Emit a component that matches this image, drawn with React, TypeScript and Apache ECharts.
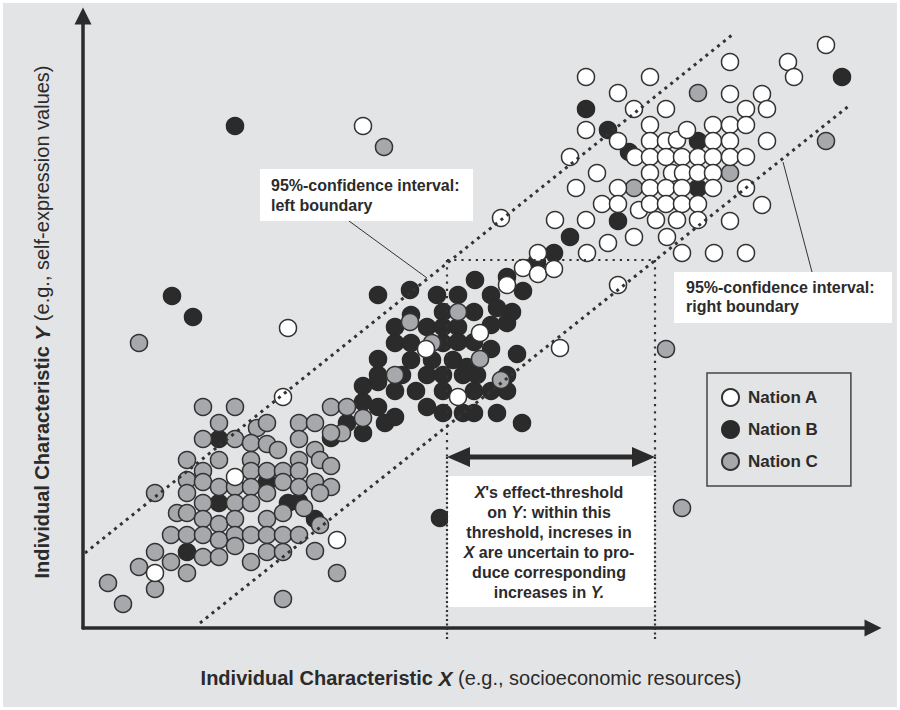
import React, { useEffect, useRef } from 'react';
import * as echarts from 'echarts';

// Data units: X = socioeconomic resources, Y = self-expression values (arbitrary scale)
const nationA: [number, number][] = [
  [397, 295], [343, 279], [375, 231], [424, 343], [440, 360], [455, 354], [455, 375], [471, 359],
  [504, 375], [525, 385], [551, 391], [535, 343], [477, 280], [418, 410], [200, 231], [152, 151],
  [72, 55], [254, 88], [205, 300], [280, 502], [503, 551], [567, 551], [535, 535], [551, 519],
  [583, 519], [567, 503], [503, 498], [535, 487], [552, 471], [567, 487], [583, 487], [594, 488],
  [604, 498], [630, 503], [630, 487], [487, 471], [567, 471], [583, 471], [599, 471], [615, 471],
  [630, 471], [514, 455], [567, 455], [589, 455], [600, 455], [615, 455], [630, 455], [493, 440],
  [535, 440], [567, 440], [583, 440], [599, 440], [630, 440], [519, 424], [535, 424], [556, 418],
  [567, 424], [583, 424], [599, 424], [615, 424], [472, 408], [503, 408], [573, 408], [594, 408],
  [615, 408], [584, 391], [599, 375], [631, 375], [663, 375], [647, 534], [679, 534], [663, 519],
  [684, 519], [647, 503], [663, 503], [647, 487], [684, 487], [647, 471], [663, 471], [663, 440],
  [679, 423], [647, 407], [743, 583], [647, 566], [705, 566], [711, 551],
];

const nationB: [number, number][] = [
  [136, 189], [184, 146], [136, 125], [104, 76], [205, 125], [216, 126], [232, 109], [248, 190],
  [264, 205], [280, 195], [280, 226], [295, 221], [302, 205], [280, 242], [295, 246], [312, 211],
  [152, 502], [89, 332], [110, 311], [357, 110], [295, 333], [327, 338], [354, 333], [375, 333],
  [392, 348], [408, 333], [440, 337], [429, 316], [414, 320], [360, 316], [391, 316], [328, 313],
  [312, 301], [344, 301], [360, 301], [375, 301], [408, 303], [424, 305], [312, 285], [328, 285],
  [360, 285], [375, 286], [391, 286], [408, 279], [295, 269], [328, 268], [349, 268], [370, 268],
  [384, 261], [434, 274], [295, 253], [319, 253], [344, 253], [360, 253], [380, 253], [394, 253],
  [424, 253], [312, 237], [333, 237], [360, 237], [391, 237], [408, 237], [424, 237], [344, 221],
  [360, 215], [380, 215], [391, 215], [414, 215], [439, 205], [424, 351], [454, 366], [471, 375],
  [487, 391], [503, 519], [525, 498], [546, 476], [615, 487], [615, 440], [535, 407], [759, 551],
];

const nationC: [number, number][] = [
  [120, 221], [152, 221], [136, 205], [120, 189], [152, 189], [174, 200], [168, 185], [104, 168],
  [136, 168], [168, 168], [120, 157], [168, 157], [104, 148], [120, 146], [72, 135], [104, 135],
  [136, 141], [152, 141], [168, 141], [120, 125], [152, 125], [168, 125], [94, 115], [104, 115],
  [120, 109], [136, 104], [152, 109], [184, 109], [88, 93], [104, 93], [120, 93], [136, 88],
  [152, 93], [168, 93], [72, 76], [120, 71], [136, 71], [152, 82], [88, 66], [56, 61],
  [104, 55], [168, 66], [72, 39], [25, 45], [40, 24], [248, 221], [264, 221], [280, 210],
  [259, 195], [248, 195], [184, 205], [216, 205], [232, 205], [216, 189], [184, 184], [195, 178],
  [232, 178], [216, 168], [237, 168], [248, 162], [184, 157], [200, 157], [216, 157], [200, 146],
  [184, 135], [216, 141], [232, 146], [248, 141], [237, 135], [221, 120], [200, 115], [237, 103],
  [184, 93], [200, 93], [216, 93], [184, 76], [200, 76], [232, 77], [254, 55], [200, 29],
  [375, 316], [327, 306], [349, 285], [397, 269], [312, 253], [418, 248], [301, 481], [56, 285],
  [583, 279], [599, 120], [615, 535], [551, 440], [647, 455], [743, 487],
];

const leftBoundary: [number, number][] = [[2, 75], [649, 593]];
const rightBoundary: [number, number][] = [[117, 5], [767, 523]];
const legendNames = ['Nation A', 'Nation B', 'Nation C'];

const FONT = "'Liberation Sans', Arial, Helvetica, sans-serif";
const INK = '#2b2b2b';

export default function App() {
  const ref = useRef<HTMLDivElement>(null);
  useEffect(() => {
    if (!ref.current) return;
    const chart = echarts.init(ref.current, null, { renderer: 'svg' });
    const boxText = {
      fontFamily: FONT,
      fontSize: 16,
      fontWeight: 'bold',
      fill: INK,
    };
    chart.setOption({
      animation: false,
      grid: { left: 83, top: 16, right: 27, bottom: 82 },
      xAxis: {
        type: 'value',
        min: 0,
        max: 790,
        axisLine: { onZero: false, symbol: ['none', 'triangle'], symbolSize: [17, 17], lineStyle: { color: INK, width: 3.5 } },
        axisTick: { show: false },
        axisLabel: { show: false },
        splitLine: { show: false },
        name: '{b|Individual Characteristic }{bi|X}{r| (e.g., socioeconomic resources)}',
        nameLocation: 'middle',
        nameGap: 38,
        nameTextStyle: {
          color: INK,
          padding: [0, 14, 0, 0],
          rich: {
            b: { fontFamily: FONT, fontSize: 20, fontWeight: 'bold', color: INK, lineHeight: 24 },
            bi: { fontFamily: FONT, fontSize: 21, fontWeight: 'bold', fontStyle: 'italic', color: INK, lineHeight: 24 },
            r: { fontFamily: FONT, fontSize: 20, color: INK, lineHeight: 24 },
          },
        },
      },
      yAxis: {
        type: 'value',
        min: 0,
        max: 612,
        axisLine: { onZero: false, symbol: ['none', 'triangle'], symbolSize: [17, 17], lineStyle: { color: INK, width: 3.5 } },
        axisTick: { show: false },
        axisLabel: { show: false },
        splitLine: { show: false },
        name: '{b|Individual Characteristic }{bi|Y}{r| (e.g., self-expression values)}',
        nameLocation: 'middle',
        nameGap: 29,
        nameTextStyle: {
          color: INK,
          rich: {
            b: { fontFamily: FONT, fontSize: 20, fontWeight: 'bold', color: INK, lineHeight: 24 },
            bi: { fontFamily: FONT, fontSize: 21, fontWeight: 'bold', fontStyle: 'italic', color: INK, lineHeight: 24 },
            r: { fontFamily: FONT, fontSize: 20, color: INK, lineHeight: 24 },
          },
        },
      },
      legend: {
        data: legendNames,
        orient: 'vertical',
        left: 707,
        top: 373,
        icon: 'circle',
        itemWidth: 17,
        itemHeight: 17,
        itemGap: 13,
        padding: [15, 33, 15, 14],
        borderColor: '#444',
        borderWidth: 1.5,
        selectedMode: false,
        textStyle: { fontFamily: FONT, fontSize: 17, fontWeight: 'bold', color: INK, lineHeight: 17, padding: [0, 0, 0, 4] },
      },
      series: [
        {
          type: 'scatter', name: 'Nation B', data: nationB, symbol: 'circle', symbolSize: 17,
          itemStyle: { color: '#2b2b2b', borderColor: '#2b2b2b', borderWidth: 1.5, opacity: 1 }, z: 2,
        },
        {
          type: 'scatter', name: 'Nation C', data: nationC, symbol: 'circle', symbolSize: 17,
          itemStyle: { color: '#a7a8ab', borderColor: '#333', borderWidth: 1.5, opacity: 1 }, z: 2,
        },
        {
          type: 'scatter', name: 'Nation A', data: nationA, symbol: 'circle', symbolSize: 17,
          itemStyle: { color: '#ffffff', borderColor: '#333', borderWidth: 1.5, opacity: 1 }, z: 2,
        },
        {
          type: 'line', name: 'left boundary', data: leftBoundary, symbol: 'none', silent: true, z: 5,
          lineStyle: { color: '#333', width: 3, type: [3, 4.5], cap: 'butt' },
        },
        {
          type: 'line', name: 'right boundary', data: rightBoundary, symbol: 'none', silent: true, z: 5,
          lineStyle: { color: '#333', width: 3, type: [3, 4.5], cap: 'butt' },
        },
      ],
      graphic: [
        // left CI label
        { type: 'line', z: 100, shape: { x1: 349, y1: 221, x2: 427, y2: 278 }, style: { stroke: '#333', lineWidth: 1 } },
        { type: 'rect', z: 100, shape: { x: 260, y: 169, width: 213, height: 52 }, style: { fill: '#fff' } },
        {
          type: 'text', z: 101, x: 271, y: 175,
          style: { ...boxText, text: '95%-confidence interval:\nleft boundary', lineHeight: 20, align: 'left', verticalAlign: 'top' },
        },
        // right CI label
        { type: 'line', z: 100, shape: { x1: 783, y1: 162, x2: 812, y2: 272 }, style: { stroke: '#333', lineWidth: 1 } },
        { type: 'rect', z: 100, shape: { x: 674, y: 272, width: 218, height: 51 }, style: { fill: '#fff' } },
        {
          type: 'text', z: 101, x: 686, y: 278,
          style: { ...boxText, text: '95%-confidence interval:\nright boundary', lineHeight: 19, align: 'left', verticalAlign: 'top' },
        },
        // threshold box
        { type: 'rect', z: 100, shape: { x: 448, y: 476, width: 206, height: 131 }, style: { fill: '#fff' } },
        { type: 'line', z: 102, shape: { x1: 447, y1: 260, x2: 655, y2: 260 }, style: { stroke: '#333', lineWidth: 2.2, lineDash: [2.2, 5] } },
        { type: 'line', z: 102, shape: { x1: 447, y1: 260, x2: 447, y2: 457 }, style: { stroke: '#333', lineWidth: 2.2, lineDash: [2.2, 5] } },
        { type: 'line', z: 102, shape: { x1: 655, y1: 260, x2: 655, y2: 457 }, style: { stroke: '#333', lineWidth: 2.2, lineDash: [2.2, 5] } },
        { type: 'line', z: 102, shape: { x1: 447, y1: 457, x2: 447, y2: 641 }, style: { stroke: '#333', lineWidth: 2.2, lineDash: [2, 2.5] } },
        { type: 'line', z: 102, shape: { x1: 655, y1: 457, x2: 655, y2: 641 }, style: { stroke: '#333', lineWidth: 2.2, lineDash: [2, 2.5] } },
        { type: 'line', z: 103, shape: { x1: 466, y1: 457, x2: 636, y2: 457 }, style: { stroke: INK, lineWidth: 5 } },
        { type: 'polygon', z: 103, shape: { points: [[447, 457], [470, 447], [470, 467]] }, style: { fill: INK } },
        { type: 'polygon', z: 103, shape: { points: [[655, 457], [632, 447], [632, 467]] }, style: { fill: INK } },
        {
          type: 'text', z: 104, x: 549, y: 482,
          style: {
            ...boxText,
            text: "{i|X}'s effect-threshold\non {i|Y}: within this\nthreshold, increses in\n{i|X} are uncertain to pro-\nduce corresponding\nincreases in {i|Y.}",
            lineHeight: 20,
            align: 'center',
            verticalAlign: 'top',
            rich: {
              i: { fontFamily: FONT, fontSize: 16, fontWeight: 'bold', fontStyle: 'italic', fill: INK, lineHeight: 20 },
            },
          },
        },
      ],
    });
    return () => chart.dispose();
  }, []);
  return (
    <div
      ref={ref}
      style={{
        position: 'absolute',
        left: 0,
        top: 0,
        width: 900,
        height: 710,
        background: '#e3e4e6',
        boxShadow: 'inset 0 0 0 3px #ffffff',
      }}
    />
  );
}
